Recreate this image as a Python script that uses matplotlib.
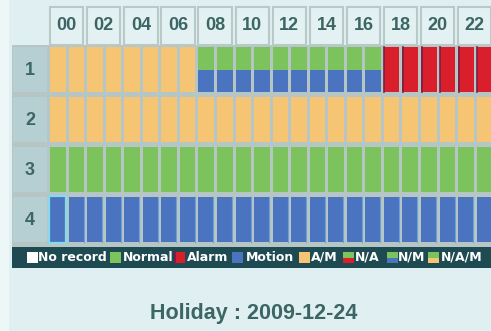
import matplotlib.pyplot as plt
from matplotlib.patches import Rectangle

# recording status per channel, one entry per hour (0-23)
hours = list(range(24))
channels = ['1', '2', '3', '4']
status = {
    '1': ['A/M'] * 8 + ['N/M'] * 10 + ['Alarm'] * 6,
    '2': ['A/M'] * 24,
    '3': ['Normal'] * 24,
    '4': ['Motion'] * 24,
}
hour_labels = ['00', '02', '04', '06', '08', '10', '12', '14', '16', '18', '20', '22']
legend_labels = ['No record', 'Normal', 'Alarm', 'Motion', 'A/M', 'N/A', 'N/M', 'N/A/M']
title = 'Holiday : 2009-12-24'

GREEN = '#7cc35d'
BLUE = '#4a74bf'
RED = '#d91f2b'
ORANGE = '#f5c573'
WHITE = '#ffffff'
# top / bottom colour of each cell type
colors = {
    'No record': (WHITE, WHITE),
    'Normal': (GREEN, GREEN),
    'Alarm': (RED, RED),
    'Motion': (BLUE, BLUE),
    'A/M': (ORANGE, ORANGE),
    'N/A': (GREEN, RED),
    'N/M': (GREEN, BLUE),
    'N/A/M': (GREEN, ORANGE),
}

BG = '#dfeff2'
PANEL = '#b6c6c4'
LABEL_BG = '#b5cfd2'
TEXT = '#3b6664'
STRIP = '#1e4a52'

W, H = 491, 331
PITCH = 18.55   # px per hour
X0 = 50         # px of hour 0
ROW_PX = 50     # px per channel row
Y1 = 69.5       # px of row 1 centre

fig = plt.figure(figsize=(W / 100, H / 100), dpi=100, facecolor=BG)
ax = fig.add_axes([0, 0, 1, 1])
ax.set_xlim(-X0 / PITCH, (W - X0) / PITCH)
ax.set_ylim(1 + (H - Y1) / ROW_PX, 1 - Y1 / ROW_PX)
ax.axis('off')
ax.set_facecolor(BG)

def px_x(p):
    return (p - X0) / PITCH

def px_y(p):
    return 1 + (p - Y1) / ROW_PX

# light margin on the far left
ax.add_patch(Rectangle((px_x(0), px_y(0)), px_x(9) - px_x(0), px_y(H) - px_y(0),
                       facecolor='#eef7f8', edgecolor='none', zorder=0))

# grey panel behind the grid
ax.add_patch(Rectangle((px_x(12), px_y(44.5)), px_x(W + 5) - px_x(12), px_y(268) - px_y(44.5),
                       facecolor=PANEL, edgecolor='none', zorder=1))

# hour header cells
for k, lab in enumerate(hour_labels):
    x = 2 * k
    ax.add_patch(Rectangle((x, px_y(7)), 1.8, px_y(44.5) - px_y(7),
                           facecolor='#e3f1f3', edgecolor='#b9c9c8', lw=1.5, zorder=2))
    ax.text(x + 0.9, px_y(26), lab, ha='center', va='center', color=TEXT,
            fontsize=13, fontweight='bold', family='Liberation Sans', zorder=3)

BW = 0.84   # bar width in hours
BH = 0.9    # bar height in rows
for r, ch in enumerate(channels, start=1):
    ax.add_patch(Rectangle((px_x(13), r - BH / 2), px_x(47) - px_x(13), BH,
                           facecolor=LABEL_BG, edgecolor='none', zorder=2))
    ax.text((px_x(13) + px_x(47)) / 2, r + 0.02, ch, ha='center', va='center', color=TEXT,
            fontsize=13, fontweight='bold', family='Liberation Sans', zorder=3)
    for h, st in zip(hours, status[ch]):
        top, bot = colors[st]
        ax.add_patch(Rectangle((h, r - BH / 2), BW, BH / 2, facecolor=top,
                               edgecolor='none', zorder=3))
        ax.add_patch(Rectangle((h, r), BW, BH / 2, facecolor=bot,
                               edgecolor='none', zorder=3))
        if st == 'Alarm':
            ax.plot([h + 0.03, h + 0.03], [r - BH / 2, r + BH / 2], color='#7a1f48',
                    lw=1.2, zorder=4)
        if st == 'Motion':
            ax.plot([h + BW - 0.03] * 2, [r - BH / 2, r + BH / 2], color='#6e9fdc',
                    lw=0.8, zorder=4)

# selected cell outline
ax.add_patch(Rectangle((0 - 0.04, 4 - BH / 2 - 0.02), BW + 0.08, BH + 0.04,
                       facecolor='none', edgecolor='#86dbea', lw=1.6, zorder=5))

# legend strip
ax.add_patch(Rectangle((px_x(12), px_y(246.5)), px_x(W + 5) - px_x(12), px_y(268) - px_y(246.5),
                       facecolor=STRIP, edgecolor='none', zorder=2))
lax = fig.add_axes([12 / W, 1 - 268 / H, (W - 12) / W, 21.5 / H])
lax.set_xlim(12, W)
lax.set_ylim(0, 21.5)
lax.axis('off')
sq_x = [27, 110, 174, 232, 299, 343, 387, 428]
txt_x = [38, 123, 187, 246, 311, 355, 398, 441]
for lab, sx, tx in zip(legend_labels, sq_x, txt_x):
    top, bot = colors[lab]
    lax.add_patch(Rectangle((sx, 5), 11, 5.5, facecolor=bot, edgecolor='none'))
    lax.add_patch(Rectangle((sx, 10.5), 11, 5.5, facecolor=top, edgecolor='none'))
    if lab == 'Alarm':
        lax.plot([sx + 1, sx + 1], [5, 16], color='#7a1f48', lw=1.5)
    lax.text(tx, 10.5, lab, ha='left', va='center', color='white',
             fontsize=9, fontweight='bold', family='DejaVu Sans')

fig.text(254 / W, 1 - 314 / H, title, ha='center', va='center', color=TEXT,
         fontsize=15.5, fontweight='bold', family='Liberation Sans')

fig.savefig('out.png', dpi=100, facecolor=BG)
